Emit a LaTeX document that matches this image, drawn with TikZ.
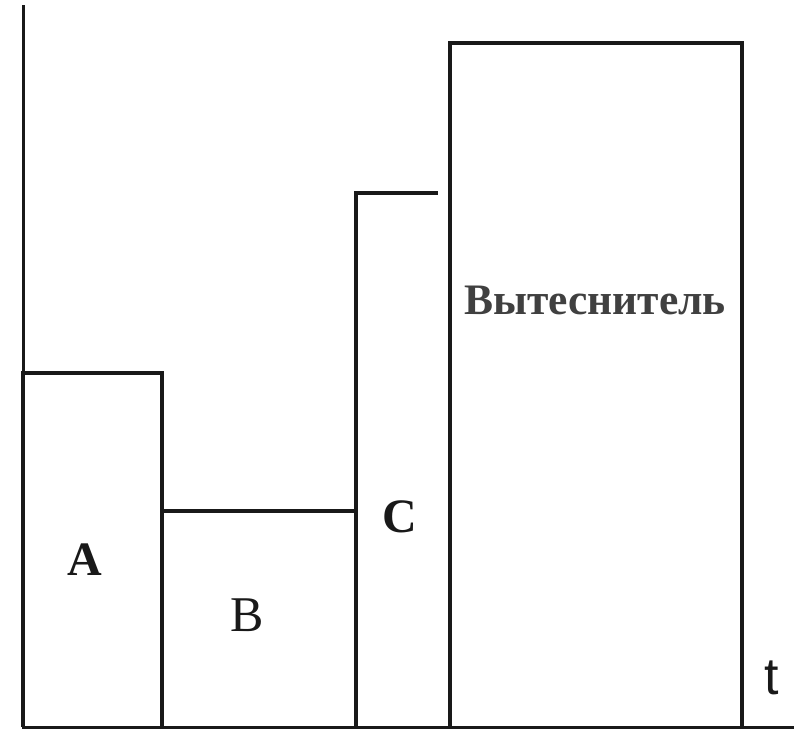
\documentclass[tikz,border=0pt]{standalone}
\usepackage{fontspec}
\setmainfont{Liberation Serif}
\newfontfamily\labelsans{Liberation Sans}
\begin{document}
\begin{tikzpicture}[x=1pt,y=-1pt,
  axisline/.style={line width=3pt,draw=black!90},
  boxline/.style={line width=4.5pt,draw=black!90,line join=miter},
  letter/.style={font=\fontsize{50}{50}\selectfont,text=black!90,inner sep=0pt},
  boldletter/.style={letter,font=\bfseries\fontsize{48}{48}\selectfont},
  bigword/.style={font=\bfseries\fontsize{43.5}{43.5}\selectfont,text=black!75,inner sep=0pt}]
  \useasboundingbox (0,0) rectangle (794,732);
  % axes
  \draw[axisline] (23,5) -- (23,727) -- (794,727);
  % block A
  \draw[boxline] (23,727) -- (23,373) -- (162,373) -- (162,727);
  % block B
  \draw[boxline] (162,511) -- (356,511) -- (356,727);
  % block C
  \draw[boxline] (356,511) -- (356,193) -- (438,193);
  % displacer block
  \draw[boxline] (450,727) -- (450,43) -- (742,43) -- (742,727);
  % labels
  \node[boldletter] (la) at (85,560) {A};
  \node[letter] (lb) at (247,615) {B};
  \node[boldletter] (lc) at (400,517) {C};
  \node[bigword] (ld) at (595,300) {Вытеснитель};
  \node[letter,font=\labelsans\fontsize{52}{52}\selectfont] (lt) at (772,678) {t};
\end{tikzpicture}
\end{document}
